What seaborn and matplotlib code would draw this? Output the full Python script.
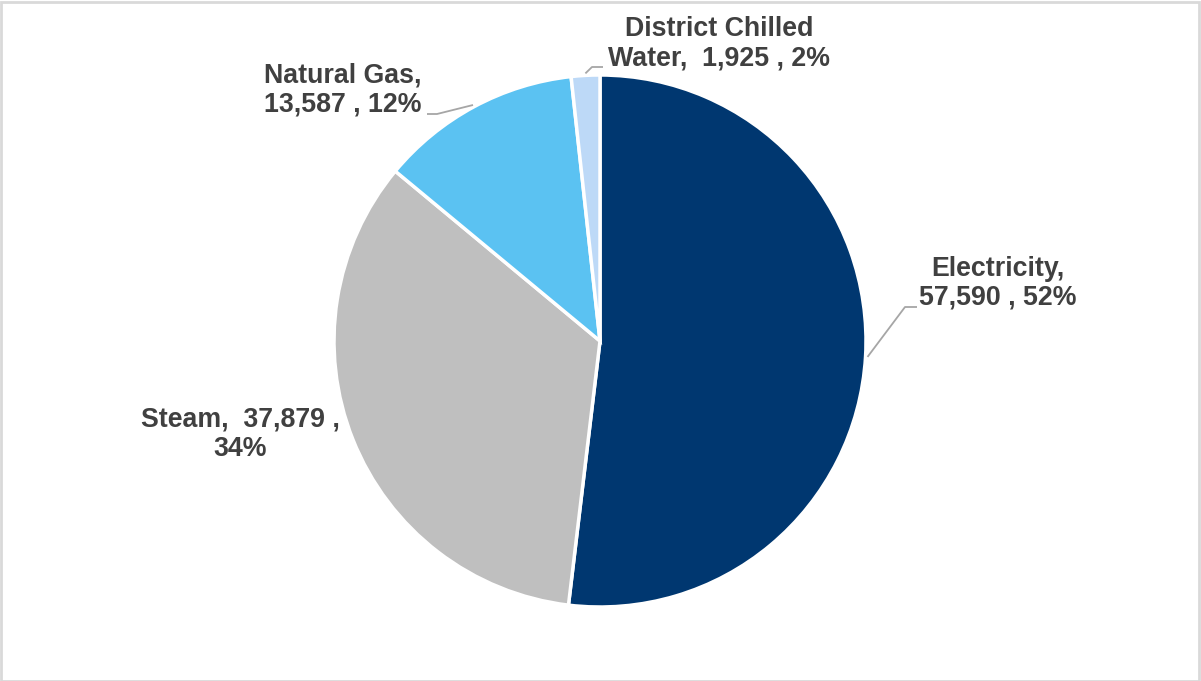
import numpy as np
import matplotlib
matplotlib.use("Agg")
import matplotlib.pyplot as plt
import seaborn as sns

categories = ["Electricity", "Steam", "Natural Gas", "District Chilled Water"]
values = [57590, 37879, 13587, 1925]
label_texts = ["Electricity,\n57,590 , 52%", "Steam,  37,879 ,\n34%",
               "Natural Gas,\n13,587 , 12%", "District Chilled\nWater,  1,925 , 2%"]
colors = ["#003770", "#BFBFBF", "#5BC2F2", "#BDD9F7"]

sns.set_theme(style="white")
plt.rcParams['font.family'] = ['Liberation Sans', 'DejaVu Sans']

W, H = 1201, 681
fig = plt.figure(figsize=(W / 100, H / 100), dpi=100)
ax = fig.add_axes([0, 0, 1, 1])

cx, cy, R = 600, H - 341, 266
wedges, _ = ax.pie(values, colors=colors, startangle=90, counterclock=False,
                   center=(cx, cy), radius=R, frame=True,
                   wedgeprops=dict(edgecolor='white', linewidth=2.5))
ax.set_xlim(0, W)
ax.set_ylim(0, H)
ax.set_aspect('equal')
ax.axis('off')

# label positions (pixel coords, y from top) and leader elbow points
text_pos = [(998, 283), (240, 434), (343, 90), (719, 44)]
elbows = [[(905, 307), (917, 307)], None, [(437, 114), (427, 114)], [(592, 67), (603, 67)]]

txtcol = "#404040"
for w, lab, pos, elb in zip(wedges, label_texts, text_pos, elbows):
    ax.text(pos[0], H - pos[1], lab, ha='center', va='center', fontsize=19.3,
            fontweight='bold', color=txtcol, linespacing=1.15)
    if elb is not None:
        ang = np.deg2rad((w.theta1 + w.theta2) / 2)
        px, py = cx + (R + 2) * np.cos(ang), cy + (R + 2) * np.sin(ang)
        xs = [px] + [e[0] for e in elb]
        ys = [py] + [H - e[1] for e in elb]
        ax.plot(xs, ys, color="#A6A6A6", lw=1.3, solid_capstyle='butt')

# outer border
fig.patches.append(plt.Rectangle((0.5 / W, 0.5 / H), 1 - 2.5 / W, 1 - 2.5 / H,
                                 transform=fig.transFigure, fill=False,
                                 edgecolor="#D9D9D9", lw=2))

fig.savefig("out.png", dpi=100)
